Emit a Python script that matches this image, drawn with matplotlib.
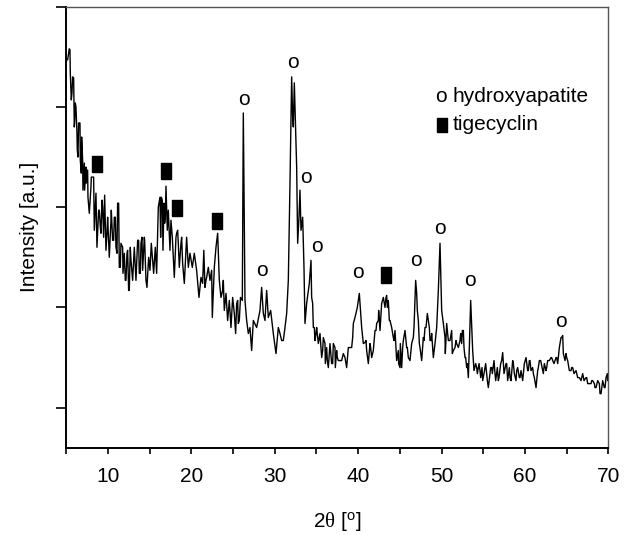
import matplotlib
matplotlib.use("Agg")
import matplotlib.pyplot as plt
from matplotlib.ticker import MultipleLocator, NullFormatter

plt.rcParams['font.family'] = ['Liberation Sans', 'DejaVu Sans']
plt.rcParams['mathtext.fontset'] = 'custom'
plt.rcParams['mathtext.rm'] = 'Liberation Sans'
plt.rcParams['mathtext.it'] = 'Liberation Serif'

# XRD pattern, split by 2theta range
# (2theta in degrees, intensity in a.u.)
theta_low = [
    5.06, 5.14, 5.34, 5.42, 5.46, 5.58, 5.66, 5.74, 5.86, 5.94,
    5.98, 6.06, 6.14, 6.26, 6.30, 6.38, 6.46, 6.62, 6.66, 6.78,
    6.82, 6.94, 6.98, 7.14, 7.18, 7.34, 7.38, 7.54, 7.58, 7.74,
    7.94, 7.98, 8.14, 8.26, 8.34, 8.46, 8.54, 8.66, 8.86, 8.94,
    9.06, 9.14, 9.26, 9.34, 9.46, 9.58, 9.74, 9.86, 9.94, 10.14,
    10.34, 10.38, 10.54, 10.66, 10.74, 10.86, 10.94, 11.06, 11.14, 11.26,
    11.34, 11.46, 11.54, 11.74, 11.78, 11.94, 12.06, 12.14, 12.26, 12.34,
    12.46, 12.54, 12.66, 12.74, 12.94, 13.14, 13.26, 13.34, 13.54, 13.66,
    13.74, 13.86, 13.94, 14.06, 14.14, 14.34, 14.38, 14.54, 14.66,
]
int_low = [
    347, 347, 358, 357, 334, 307, 314, 330, 329, 280,
    284, 304, 300, 274, 257, 250, 284, 284, 247, 234,
    270, 247, 217, 244, 217, 240, 224, 237, 210, 194,
    220, 230, 230, 230, 177, 200, 214, 160, 197, 197,
    180, 174, 207, 200, 170, 212, 157, 174, 190, 150,
    187, 197, 167, 167, 190, 190, 160, 154, 204, 204,
    140, 140, 164, 160, 134, 154, 127, 127, 154, 157,
    117, 117, 160, 147, 127, 160, 140, 127, 167, 167,
    134, 134, 164, 170, 137, 170, 167, 127, 120,
]

theta_tig = [
    14.86, 15.02, 15.18, 15.46, 15.66, 15.82, 16.02, 16.22, 16.30, 16.38,
    16.50, 16.58, 16.70, 16.78, 16.86, 16.94, 17.10, 17.22, 17.42, 17.54,
    17.70, 17.94, 18.14, 18.22, 18.34, 18.42, 18.54, 18.74, 18.82, 18.94,
    19.14, 19.42, 19.62, 19.82, 20.10, 20.34, 20.62, 20.90, 21.14, 21.34,
    21.48, 21.62, 21.74, 21.82, 22.02, 22.22, 22.42, 22.50, 22.74, 22.94,
    23.14, 23.34, 23.54, 23.74, 23.82, 23.94, 24.14, 24.34, 24.54, 24.74,
    24.94, 25.14, 25.30, 25.42, 25.54, 25.62, 25.74, 25.88, 26.10,
]
int_tig = [
    150, 137, 164, 134, 160, 134, 200, 210, 170, 210,
    207, 157, 204, 184, 190, 221, 177, 197, 157, 187,
    170, 130, 170, 174, 177, 164, 140, 164, 170, 144,
    124, 170, 140, 154, 140, 154, 137, 110, 130, 124,
    157, 120, 127, 130, 140, 127, 137, 90, 140, 160,
    174, 127, 110, 117, 127, 97, 114, 87, 107, 80,
    110, 94, 74, 104, 107, 84, 87, 110, 107,
]

theta_main = [
    26.22, 26.42, 26.62, 26.82, 27.02, 27.22, 27.42, 27.82, 28.22, 28.42,
    28.62, 28.82, 29.02, 29.22, 29.50, 29.82, 30.14, 30.42, 30.62, 30.82,
    31.02, 31.22, 31.42, 31.62, 31.82, 32.02, 32.14, 32.22, 32.34, 32.50,
    32.62, 32.74, 32.90, 33.02, 33.14, 33.34, 33.50, 33.62, 33.82, 34.14,
]
int_main = [
    294, 107, 87, 74, 80, 57, 87, 80, 97, 120,
    94, 87, 117, 90, 97, 74, 54, 80, 74, 67,
    67, 80, 94, 127, 224, 330, 290, 280, 324, 274,
    240, 164, 190, 217, 177, 190, 140, 84, 104, 124,
]

theta_mid = [
    34.34, 34.42, 34.54, 34.62, 34.74, 34.82, 34.94, 35.02, 35.22, 35.42,
    35.62, 35.74, 35.82, 36.02, 36.06, 36.22, 36.30, 36.42, 36.62, 36.82,
    36.94, 37.02, 37.22, 37.26, 37.42, 37.50, 37.62, 37.82, 38.02, 38.22,
    38.42, 38.62, 38.82, 39.02, 39.22, 39.34, 39.42, 39.62, 39.82, 39.90,
    40.02, 40.14, 40.42, 40.62, 40.82, 40.94, 41.02, 41.22, 41.42, 41.50,
    41.62, 41.82, 42.02, 42.14, 42.22, 42.42, 42.46, 42.62, 42.82, 43.02,
    43.22, 43.34, 43.42, 43.50, 43.62, 43.74, 43.82, 44.02, 44.22, 44.30,
    44.42, 44.62, 44.82, 44.86, 45.02, 45.06, 45.22, 45.34, 45.42, 45.62,
    45.82, 45.90, 46.02, 46.22, 46.42, 46.62, 46.70, 46.90, 47.02, 47.10,
    47.22, 47.34, 47.42, 47.62, 47.82, 47.90, 48.02, 48.14, 48.30, 48.42,
    48.54, 48.62, 48.74, 48.82, 49.02, 49.22, 49.42, 49.62, 49.82, 50.02,
    50.22, 50.42, 50.46, 50.62, 50.82, 51.02, 51.22, 51.30, 51.42, 51.62,
    51.74, 51.82, 52.02, 52.22, 52.30,
]
int_mid = [
    147, 110, 104, 80, 80, 67, 74, 80, 64, 74,
    50, 57, 70, 64, 44, 60, 47, 40, 64, 44,
    44, 64, 60, 40, 57, 50, 47, 47, 47, 54,
    50, 40, 60, 60, 60, 70, 84, 90, 97, 100,
    107, 114, 80, 64, 65, 67, 57, 44, 64, 60,
    50, 57, 77, 77, 84, 87, 97, 77, 104, 110,
    100, 110, 112, 100, 107, 87, 87, 80, 70, 67,
    77, 47, 57, 44, 40, 64, 40, 60, 67, 77,
    60, 60, 50, 47, 64, 70, 80, 127, 114, 97,
    87, 64, 60, 47, 70, 67, 80, 80, 94, 87,
    80, 67, 67, 74, 50, 64, 80, 117, 164, 97,
    84, 70, 54, 84, 67, 67, 77, 54, 57, 60,
    67, 64, 60, 67, 74,
]

theta_high = [
    52.42, 52.50, 52.62, 52.70, 52.82, 52.90, 53.02, 53.10, 53.22, 53.34,
    53.50, 53.74, 53.90, 54.10, 54.22, 54.30, 54.50, 54.62, 54.70, 54.86,
    54.94, 55.10, 55.22, 55.30, 55.50, 55.62, 55.90, 56.02, 56.10, 56.30,
    56.42, 56.50, 56.70, 56.82, 56.90, 57.10, 57.22, 57.34, 57.50, 57.74,
    57.82, 57.94, 58.14, 58.22, 58.34, 58.54, 58.62, 58.74, 58.94, 59.02,
    59.14, 59.34, 59.42, 59.54, 59.74, 59.82, 59.94, 60.14, 60.34, 60.42,
    60.54, 60.62, 60.74, 60.94, 61.02, 61.14, 61.34, 61.54, 61.62, 61.74,
    61.90, 62.14, 62.22, 62.34, 62.54, 62.62, 62.74, 62.94, 63.14, 63.22,
    63.34, 63.50, 63.74, 63.82, 63.94, 64.14, 64.34, 64.42, 64.54, 64.62,
    64.74, 64.82, 64.94, 65.02, 65.14, 65.34, 65.54, 65.62, 65.74, 65.90,
    66.14, 66.22, 66.34, 66.54, 66.74, 66.82, 66.94, 67.10, 67.34, 67.42,
    67.54, 67.74, 67.94, 68.02, 68.14, 68.34, 68.42, 68.54, 68.74, 68.94,
    69.02, 69.14, 69.34, 69.54, 69.62, 69.74, 69.90, 69.94, 69.98,
]
int_high = [
    64, 77, 77, 60, 50, 50, 40, 44, 30, 60,
    107, 57, 37, 44, 40, 34, 44, 37, 30, 40,
    27, 34, 40, 44, 27, 20, 40, 40, 34, 47,
    34, 27, 40, 27, 30, 44, 47, 55, 34, 44,
    44, 27, 40, 30, 27, 47, 44, 34, 27, 37,
    40, 30, 30, 37, 27, 34, 44, 50, 37, 37,
    47, 47, 37, 40, 34, 30, 20, 37, 40, 47,
    47, 37, 34, 44, 37, 40, 47, 47, 50, 50,
    47, 44, 50, 50, 44, 60, 70, 70, 72, 54,
    50, 47, 54, 50, 47, 37, 37, 40, 40, 34,
    37, 34, 30, 30, 27, 30, 34, 27, 30, 30,
    24, 24, 24, 27, 27, 24, 20, 20, 27, 24,
    14, 14, 27, 20, 20, 30, 34, 27, 30,
]

two_theta = theta_low + theta_tig + theta_main + theta_mid + theta_high
intensity = int_low + int_tig + int_main + int_mid + int_high

# phase labels ("o" = hydroxyapatite, square = tigecyclin)
hap_x = [26.34, 32.22, 33.74, 35.06, 28.46, 39.98, 46.94, 49.82, 53.42, 64.34]
hap_y = [307, 344, 230, 161, 137, 135, 147, 179, 127, 86]
tig_x = [8.62, 16.94, 18.22, 23.10, 43.34]
tig_y = [243, 236, 199, 186, 132]

legend_labels = ['hydroxyapatite', 'tigecyclin']

rect = [(-0.33, -0.5), (0.33, -0.5), (0.33, 0.5), (-0.33, 0.5), (-0.33, -0.5)]

fig = plt.figure(figsize=(6.27, 5.35), dpi=100)
ax = fig.add_axes([0.106, 0.163, 0.864, 0.8245])

ax.plot(two_theta, intensity, color='black', lw=1.0)

for x, y in zip(hap_x, hap_y):
    ax.text(x, y, 'o', fontsize=15, ha='center', va='center')
ax.plot(tig_x, tig_y, linestyle='none', marker=rect, markersize=11,
        color='black')

# hand-made legend in the upper right
ax.text(49.9, 310, 'o', fontsize=15, ha='center', va='center')
ax.text(51.3, 310, legend_labels[0], fontsize=15, ha='left', va='center')
ax.plot([50.1], [282], linestyle='none', marker=rect, markersize=10,
        color='black')
ax.text(51.3, 282, legend_labels[1], fontsize=15, ha='left', va='center')

ax.set_xlim(5, 70)
ax.set_ylim(-40, 400)
ax.xaxis.set_major_locator(MultipleLocator(10))
ax.xaxis.set_minor_locator(MultipleLocator(5))
ax.yaxis.set_major_locator(MultipleLocator(100))
ax.yaxis.set_major_formatter(NullFormatter())
ax.tick_params(axis='x', which='both', direction='out', length=4, width=1.2,
               labelsize=15, pad=10)
ax.tick_params(axis='y', direction='out', length=7, width=1.2)

for side in ('left', 'bottom'):
    ax.spines[side].set_linewidth(1.4)
for side in ('top', 'right'):
    ax.spines[side].set_linewidth(1.0)
    ax.spines[side].set_color('#555555')

ax.set_xlabel(r'2$\theta$ [$^{\mathrm{o}}$]', fontsize=15, labelpad=17)
ax.set_ylabel('Intensity [a.u.]', fontsize=15, labelpad=9)

fig.savefig('out.png', dpi=100)
